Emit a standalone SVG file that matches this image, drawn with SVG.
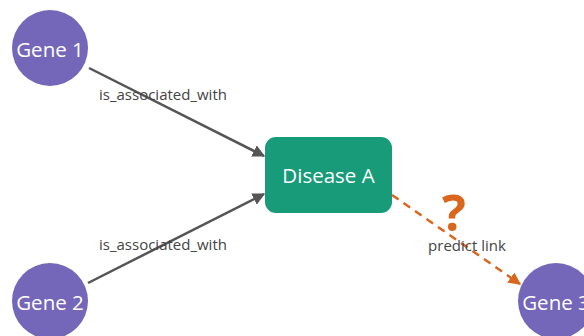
<svg xmlns="http://www.w3.org/2000/svg" width="584" height="336" viewBox="0 0 584 336">
<style>
.gene{fill:#7467b9;}
.gt{fill:#fff;font-family:"Open Sans",sans-serif;font-size:20.5px;text-anchor:middle;}
.el{fill:#444;font-family:"Open Sans",sans-serif;font-size:15px;text-anchor:middle;}
.e{stroke:#555;stroke-width:2.5;fill:none;}
.p{stroke:#d9661c;stroke-width:2.5;fill:none;stroke-dasharray:8 6;}
</style>
<defs>
<marker id="ag" viewBox="0 0 10 10" refX="9" refY="5" markerWidth="5" markerHeight="5" orient="auto" markerUnits="strokeWidth"><path d="M0,0L10,5L0,10z" fill="#555"/></marker>
<marker id="ao" viewBox="0 0 10 10" refX="9" refY="5" markerWidth="5" markerHeight="5" orient="auto" markerUnits="strokeWidth"><path d="M0,0L10,5L0,10z" fill="#d9661c"/></marker>
</defs>
<rect width="584" height="336" fill="#fff"/>
<g id="edges">
<line class="e" x1="89" y1="68" x2="264" y2="156" marker-end="url(#ag)"/>
<line class="e" x1="88" y1="283" x2="264" y2="194" marker-end="url(#ag)"/>
<line class="p" x1="392" y1="195" x2="520" y2="284" marker-end="url(#ao)"/>
<text class="el" x="163" y="100">is_associated_with</text>
<text class="el" x="163" y="250">is_associated_with</text>
<text x="454" y="231" fill="#d9661c" font-family="'Open Sans',sans-serif" font-size="50" font-weight="bold" text-anchor="middle">?</text>
<text class="el" x="467" y="251">predict link</text>
</g>
<g id="gene1"><circle class="gene" cx="50" cy="48" r="38"/><text class="gt" x="50" y="57">Gene 1</text></g>
<g id="gene2"><circle class="gene" cx="50" cy="301" r="38"/><text class="gt" x="50" y="310">Gene 2</text></g>
<g id="gene3"><circle class="gene" cx="556" cy="301" r="38"/><text class="gt" x="556" y="310">Gene 3</text></g>
<g id="diseaseA"><rect x="265" y="137" width="127" height="76" rx="11" fill="#189b79"/><text class="gt" x="328.5" y="183" font-size="21.5px">Disease A</text></g>
</svg>
